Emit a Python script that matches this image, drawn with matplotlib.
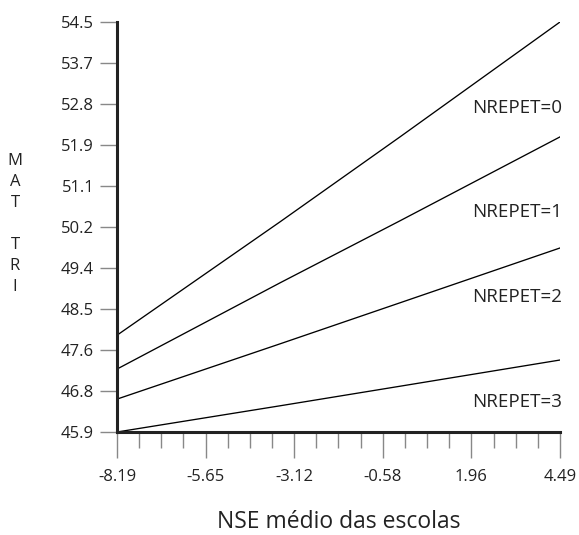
import matplotlib
matplotlib.use('Agg')
import matplotlib.pyplot as plt
import numpy as np

plt.rcParams['font.family'] = ['Open Sans', 'DejaVu Sans']

# valores
nse = [-8.19, -3.52, -0.09, 4.49]
mat_nrepet0 = [47.93, 50.31, 52.09, 54.50]
mat_nrepet1 = [47.22, 49.03, 50.33, 52.09]
mat_nrepet2 = [46.59, 47.75, 48.61, 49.76]
mat_nrepet3 = [45.90, 46.45, 46.86, 47.41]
labels = ['NREPET=0', 'NREPET=1', 'NREPET=2', 'NREPET=3']
label_y = [52.70, 50.51, 48.73, 46.53]

ytick_labels = ['45.9', '46.8', '47.6', '48.5', '49.4', '50.2',
                '51.1', '51.9', '52.8', '53.7', '54.5']
xtick_labels = ['-8.19', '-5.65', '-3.12', '-0.58', '1.96', '4.49']

fig = plt.figure(figsize=(5.79, 5.35), dpi=100)
ax = fig.add_axes([117/579, 103/535, 443/579, 410/535])

for serie in [mat_nrepet0, mat_nrepet1, mat_nrepet2, mat_nrepet3]:
    ax.plot(nse, serie, color='black', lw=0.95)

for lab, yy in zip(labels, label_y):
    ax.text(4.55, yy, lab, ha='right', va='center', fontsize=13.5, color='#222222')

ax.set_xlim(-8.19, 4.49)
ax.set_ylim(45.9, 54.5)

ax.set_yticks(np.linspace(45.9, 54.5, 11))
ax.set_yticklabels(ytick_labels)
ax.set_xticks(np.linspace(-8.19, 4.49, 6))
ax.set_xticklabels(xtick_labels)
ax.set_xticks(np.linspace(-8.19, 4.49, 21), minor=True)

for s in ['top', 'right']:
    ax.spines[s].set_visible(False)
for s in ['left', 'bottom']:
    ax.spines[s].set_linewidth(2.2)
    ax.spines[s].set_color('#222222')

ax.tick_params(axis='y', length=12, width=1, color='#888888', pad=4.5,
               labelsize=12, labelcolor='#222222')
ax.tick_params(axis='x', which='major', length=18.5, width=1, color='#888888',
               pad=8, labelsize=12, labelcolor='#222222')
ax.tick_params(axis='x', which='minor', length=11.5, width=1, color='#888888')

# rotulo do eixo x colocado bem em baixo, como no original
ax.set_xlabel('NSE médio das escolas', fontsize=16.5, color='#222222', labelpad=18)
fig.text(15/579, 1 - 224/535, 'M\nA\nT\n\nT\nR\nI', ha='center', va='center',
         fontsize=12, color='#222222', linespacing=1.42)

fig.savefig('out.png', dpi=100)
